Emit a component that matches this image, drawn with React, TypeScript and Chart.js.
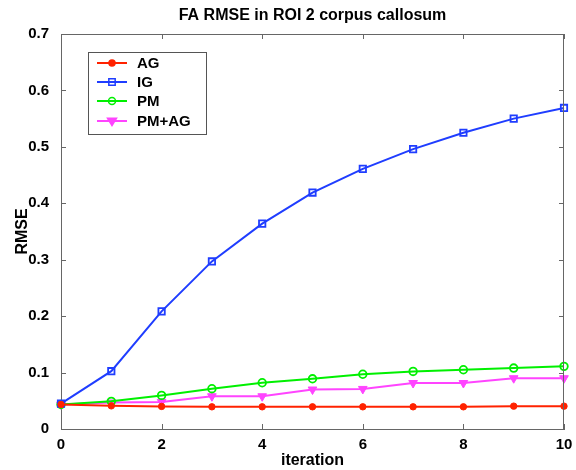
import React, { useEffect, useRef } from "react";
import { Chart, registerables } from "chart.js";

Chart.register(...registerables);

const iterations = [0, 1, 2, 3, 4, 5, 6, 7, 8, 9, 10];
const agValues = [0.0435, 0.041, 0.040, 0.0393, 0.0393, 0.0393, 0.0393, 0.0393, 0.0393, 0.0405, 0.0405];
const igValues = [0.045, 0.1025, 0.2085, 0.297, 0.364, 0.419, 0.461, 0.496, 0.525, 0.55, 0.569];
const pmValues = [0.0435, 0.049, 0.0595, 0.0714, 0.082, 0.089, 0.097, 0.102, 0.105, 0.108, 0.111];
const pmAgValues = [0.0435, 0.047, 0.048, 0.058, 0.058, 0.070, 0.071, 0.0815, 0.0815, 0.09, 0.09];
const seriesNames = ["AG", "IG", "PM", "PM+AG"];
const titleText = "FA RMSE in ROI 2 corpus callosum";
const xLabel = "iteration";
const yLabel = "RMSE";

const RED = "#ff2200";
const BLUE = "#1f3dff";
const GREEN = "#00f000";
const MAGENTA = "#ff44ff";
const FONT = "'Liberation Sans', Arial, sans-serif";

function drawMarker(ctx: CanvasRenderingContext2D, style: string, x: number, y: number, r: number, color: string, fill: boolean) {
  ctx.save();
  ctx.beginPath();
  if (style === "circle") {
    ctx.arc(x, y, r, 0, Math.PI * 2);
  } else if (style === "rect") {
    const s = Math.SQRT1_2 * r;
    ctx.rect(x - s, y - s, 2 * s, 2 * s);
  } else if (style === "tri") {
    ctx.moveTo(x - r, y - r * 0.6);
    ctx.lineTo(x + r, y - r * 0.6);
    ctx.lineTo(x, y + r);
    ctx.closePath();
  }
  ctx.strokeStyle = color;
  ctx.lineWidth = 1.5;
  if (fill) {
    ctx.fillStyle = color;
    ctx.fill();
  }
  ctx.stroke();
  ctx.restore();
}

const matlabPlugin = {
  id: "matlabDecor",
  afterDraw(chart: any) {
    const { ctx, chartArea, scales } = chart;
    const { left, right, top, bottom } = chartArea;
    ctx.save();
    // title centred over the axes
    ctx.fillStyle = "#000000";
    ctx.font = `bold 16px ${FONT}`;
    ctx.textAlign = "center";
    ctx.textBaseline = "middle";
    ctx.fillText(titleText, (left + right) / 2, 16);
    // box
    ctx.strokeStyle = "#666666";
    ctx.lineWidth = 1;
    ctx.beginPath();
    ctx.moveTo(left, top + 0.5);
    ctx.lineTo(right, top + 0.5);
    ctx.moveTo(right - 0.5, top);
    ctx.lineTo(right - 0.5, bottom);
    ctx.stroke();
    // inward ticks
    const tl = 5;
    ctx.beginPath();
    for (let v = 0; v <= 10; v += 2) {
      const px = Math.round(scales.x.getPixelForValue(v)) + 0.5;
      ctx.moveTo(px, bottom);
      ctx.lineTo(px, bottom - tl);
      ctx.moveTo(px, top);
      ctx.lineTo(px, top + tl);
    }
    for (let i = 0; i <= 7; i++) {
      const py = Math.round(scales.y.getPixelForValue(i / 10)) + 0.5;
      ctx.moveTo(left, py);
      ctx.lineTo(left + tl, py);
      ctx.moveTo(right, py);
      ctx.lineTo(right - tl, py);
    }
    ctx.stroke();

    // legend
    const bx = 88, by = 52, bw = 118, bh = 82;
    ctx.fillStyle = "#ffffff";
    ctx.fillRect(bx, by, bw, bh);
    ctx.strokeStyle = "#555555";
    ctx.strokeRect(bx + 0.5, by + 0.5, bw, bh);
    const colors = [RED, BLUE, GREEN, MAGENTA];
    const styles = ["circle", "rect", "circle", "tri"];
    const fills = [true, false, false, true];
    const radii = [3, 4.5, 3.5, 4.5];
    const rows = [63, 82, 101, 121];
    ctx.font = `bold 15px ${FONT}`;
    ctx.textBaseline = "middle";
    ctx.textAlign = "left";
    for (let i = 0; i < 4; i++) {
      const y = rows[i];
      ctx.strokeStyle = colors[i];
      ctx.lineWidth = 2;
      ctx.beginPath();
      ctx.moveTo(97, y);
      ctx.lineTo(127, y);
      ctx.stroke();
      drawMarker(ctx, styles[i], 112, y, radii[i], colors[i], fills[i]);
      ctx.fillStyle = "#000000";
      ctx.fillText(seriesNames[i], 137, y + 1);
    }
    ctx.restore();
  },
};

export default function App() {
  const ref = useRef<HTMLCanvasElement>(null);
  useEffect(() => {
    document.body.style.margin = "0";
    const toPts = (vals: number[]) => iterations.map((x, i) => ({ x, y: vals[i] }));
    const chart = new Chart(ref.current!, {
      type: "line",
      data: {
        datasets: [
          {
            label: seriesNames[0],
            data: toPts(agValues),
            borderColor: RED,
            backgroundColor: RED,
            borderWidth: 2,
            pointStyle: "circle",
            pointRadius: 3.2,
            pointBorderWidth: 1,
            clip: false,
          },
          {
            label: seriesNames[1],
            data: toPts(igValues),
            borderColor: BLUE,
            backgroundColor: "transparent",
            borderWidth: 2,
            pointStyle: "rect",
            pointRadius: 4.5,
            pointBorderWidth: 1.8,
            clip: false,
          },
          {
            label: seriesNames[2],
            data: toPts(pmValues),
            borderColor: GREEN,
            backgroundColor: "transparent",
            borderWidth: 2,
            pointStyle: "circle",
            pointRadius: 3.8,
            pointBorderWidth: 1.8,
            clip: false,
          },
          {
            label: seriesNames[3],
            data: toPts(pmAgValues),
            borderColor: MAGENTA,
            backgroundColor: MAGENTA,
            borderWidth: 2,
            pointStyle: "triangle",
            pointRotation: 180,
            pointRadius: 5,
            pointBorderWidth: 1,
            clip: false,
          },
        ] as any,
      },
      options: {
        animation: false,
        responsive: false,
        devicePixelRatio: 1,
        layout: { padding: { top: 34, right: 12, left: 0, bottom: 0 } },
        plugins: {
          legend: { display: false },
          tooltip: { enabled: false },
          title: { display: false },
        },
        scales: {
          x: {
            type: "linear",
            min: 0,
            max: 10,
            grid: { display: false },
            border: { display: true, color: "#666666", width: 1 },
            ticks: {
              stepSize: 2,
              color: "#000000",
              padding: -1,
              font: { family: FONT, size: 15, weight: "bold" },
            },
            title: {
              display: true,
              text: xLabel,
              color: "#000000",
              font: { family: FONT, size: 16, weight: "bold" },
              padding: { top: 0, bottom: 0 },
            },
            afterFit: (s: any) => {
              s.height = 41;
            },
          },
          y: {
            type: "linear",
            min: 0,
            max: 0.7,
            grid: { display: false },
            border: { display: true, color: "#666666", width: 1 },
            ticks: {
              stepSize: 0.1,
              color: "#000000",
              padding: 4,
              font: { family: FONT, size: 15, weight: "bold" },
              callback: (v: any) => (v === 0 ? "0" : Number(v).toFixed(1)),
            },
            title: {
              display: true,
              text: yLabel,
              color: "#000000",
              font: { family: FONT, size: 16, weight: "bold" },
              padding: { top: 13, bottom: 0 },
            },
            afterFit: (s: any) => {
              s.width = 61;
            },
          },
        },
      } as any,
      plugins: [matlabPlugin],
    });
    return () => chart.destroy();
  }, []);
  return (
    <div style={{ width: 576, height: 470, background: "#ffffff" }}>
      <canvas ref={ref} width={576} height={470} style={{ display: "block" }} />
    </div>
  );
}
